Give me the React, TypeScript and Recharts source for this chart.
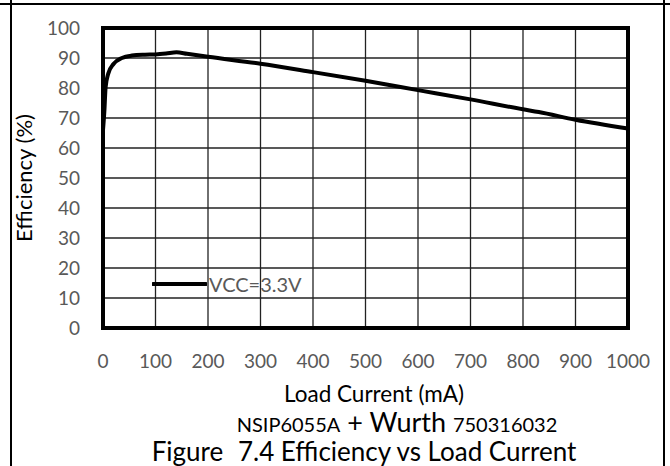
import { LineChart, Line, XAxis, YAxis, CartesianGrid, ReferenceArea, Legend } from 'recharts';

// load current (mA) and efficiency (%)
const loadCurrent = [0, 2.5, 5, 10, 20, 36, 55, 80, 100, 120, 140, 160, 200, 300, 400, 500, 600, 700, 800, 830, 900, 1000];
const efficiency = [66, 72, 80.3, 84.8, 88, 90, 90.8, 91.1, 91.2, 91.5, 91.9, 91.4, 90.4, 88.1, 85.3, 82.4, 79.3, 76.2, 72.9, 72.0, 69.4, 66.5];

const xTicks = [0, 100, 200, 300, 400, 500, 600, 700, 800, 900, 1000];
const yTicks = [0, 10, 20, 30, 40, 50, 60, 70, 80, 90, 100];

const seriesName = 'VCC=3.3V';
const xTitle = 'Load Current (mA)';
const yTitle = 'Efficiency (%)';

const data = loadCurrent.map((x, i) => ({ x, eff: efficiency[i] }));

const FONT = 'Lato, "Open Sans", sans-serif';
const GREY = '#595959';

function LegendContent() {
  return (
    <div style={{ display: 'flex', alignItems: 'center', fontFamily: FONT, fontSize: 20, color: GREY }}>
      <svg width={55} height={6}>
        <line x1={1} y1={3} x2={54} y2={3} stroke="#000" strokeWidth={4} strokeLinecap="round" />
      </svg>
      <span style={{ marginLeft: 2 }}>{seriesName}</span>
    </div>
  );
}

export default function App() {
  return (
    <div style={{ position: 'absolute', left: 0, top: 0, width: 670, height: 466, background: '#fff', overflow: 'hidden' }}>
      {/* table frame */}
      <div style={{ position: 'absolute', left: 0, top: 3, width: 670, height: 2, background: '#000' }} />
      <div style={{ position: 'absolute', left: 10, top: 0, width: 2, height: 466, background: '#000' }} />
      <div style={{ position: 'absolute', left: 663, top: 0, width: 2, height: 466, background: '#000' }} />

      <LineChart
        width={670}
        height={466}
        data={data}
        margin={{ top: 28, right: 42, bottom: 98, left: 53 }}
        style={{ fontFamily: FONT, position: 'absolute', left: 0, top: 0 }}
      >
        <CartesianGrid stroke="#222" strokeWidth={1.3} />
        <XAxis
          dataKey="x"
          type="number"
          domain={[0, 1000]}
          ticks={xTicks}
          interval={0}
          axisLine={false}
          tickLine={false}
          tickMargin={21}
          tick={{ fill: GREY, fontSize: 19 }}
          height={40}
        />
        <YAxis
          type="number"
          domain={[0, 100]}
          ticks={yTicks}
          interval={0}
          axisLine={false}
          tickLine={false}
          tickMargin={17}
          width={50}
          tick={{ fill: GREY, fontSize: 19 }}
          label={{ value: yTitle, angle: -90, position: 'insideLeft', offset: -29, fill: '#000', fontSize: 22, style: { textAnchor: 'middle' } }}
        />
        <ReferenceArea x1={0} x2={1000} y1={0} y2={100} fill="none" stroke="#000" strokeWidth={4} ifOverflow="visible" />
        <Line
          dataKey="eff"
          name={seriesName}
          type="monotone"
          stroke="#000"
          strokeWidth={4}
          dot={false}
          isAnimationActive={false}
        />
        <Legend
          verticalAlign="middle"
          content={<LegendContent />}
          wrapperStyle={{ position: 'absolute', left: 152, top: 272, width: 'auto' }}
        />
      </LineChart>

      <div style={{ position: 'absolute', left: 0, width: 748, top: 383, textAlign: 'center', fontFamily: FONT, fontSize: 22.5, color: '#000', lineHeight: '22px' }}>
        {xTitle}
      </div>
      <div style={{ position: 'absolute', left: 0, width: 794, top: 409, textAlign: 'center', fontFamily: FONT, color: '#000', lineHeight: '26px', whiteSpace: 'nowrap' }}>
        <span style={{ fontSize: 20 }}>NSIP6055A</span>
        <span style={{ fontSize: 27 }}> + Wurth </span>
        <span style={{ fontSize: 20 }}>750316032</span>
      </div>
      <div style={{ position: 'absolute', left: 0, width: 728, top: 437, textAlign: 'center', fontFamily: FONT, fontSize: 26, color: '#000', lineHeight: '28px', whiteSpace: 'pre' }}>
        <span style={{ marginRight: 8 }}>Figure </span>
        <span>7.4 Efficiency vs Load Current</span>
      </div>
    </div>
  );
}
